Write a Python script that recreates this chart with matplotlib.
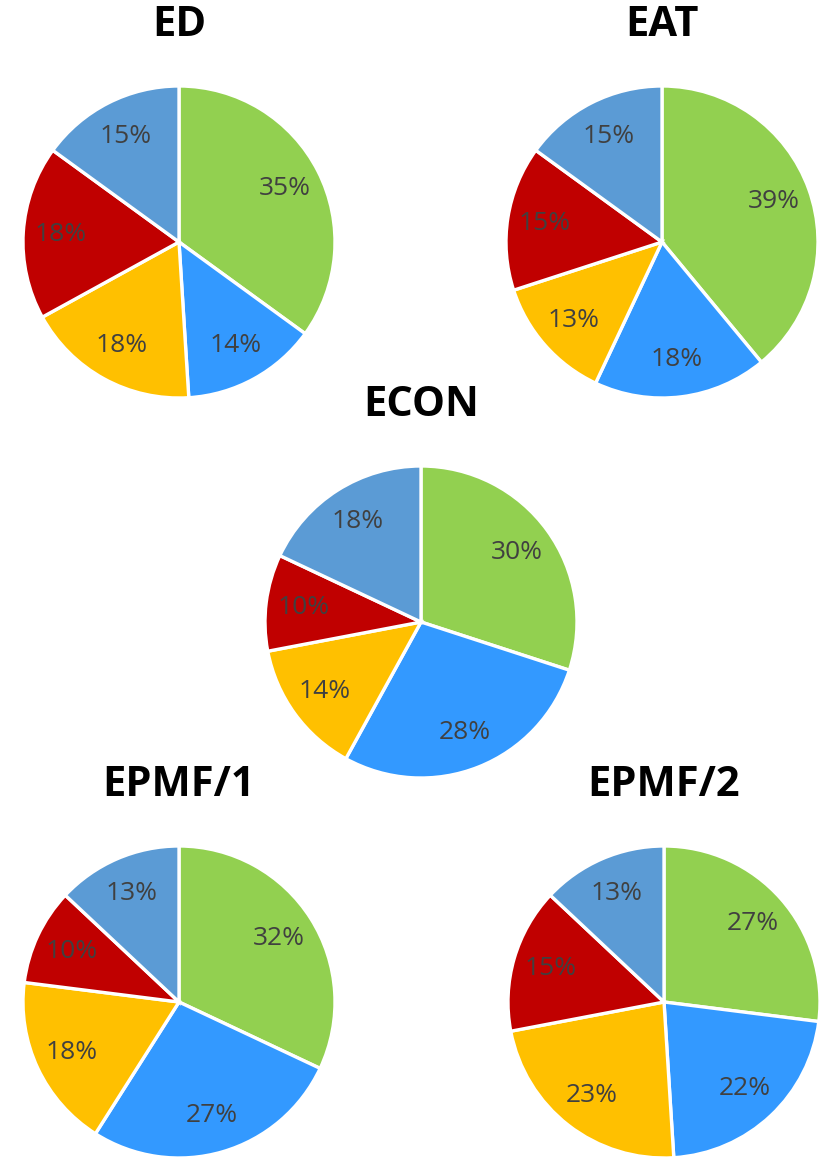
import matplotlib
matplotlib.use("Agg")
from matplotlib import pyplot as plt

# data, clockwise from 12 o'clock
titles = ["ED", "EAT", "ECON", "EPMF/1", "EPMF/2"]
ed = [35, 14, 18, 18, 15]
eat = [39, 18, 13, 15, 15]
econ = [30, 28, 14, 10, 18]
epmf1 = [32, 27, 18, 10, 13]
epmf2 = [27, 22, 23, 15, 13]
series = [ed, eat, econ, epmf1, epmf2]

colores = ["#92D050", "#3399FF", "#FFC000", "#C00000", "#5B9BD5"]

W, H = 828, 1158
fig = plt.figure(figsize=(W / 100, H / 100), dpi=100)
fig.patch.set_facecolor("white")

# centres (px) and radius of each pie, title y
centros = [(179, 242), (662, 242), (421, 622), (179, 1002), (664, 1002)]
titulo_y = [25, 25, 405, 785, 785]
R = 156

for i, vals in enumerate(series):
    cx, cy = centros[i]
    ax = fig.add_axes([(cx - R) / W, (H - cy - R) / H, 2 * R / W, 2 * R / H])
    ax.pie(vals, colors=colores, startangle=90, counterclock=False,
           autopct="%d%%", pctdistance=0.76,
           wedgeprops=dict(edgecolor="white", linewidth=2.4),
           textprops=dict(color="#404040", fontsize=19, family="Open Sans"))
    ax.set_xlim(-1, 1)
    ax.set_ylim(-1, 1)
    ax.set_aspect("equal")
    ax.axis("off")
    fig.text(cx / W, 1 - titulo_y[i] / H, titles[i], ha="center", va="center",
             fontsize=30, fontweight="bold", family="Open Sans", color="black")

plt.savefig("out.png", dpi=100)
